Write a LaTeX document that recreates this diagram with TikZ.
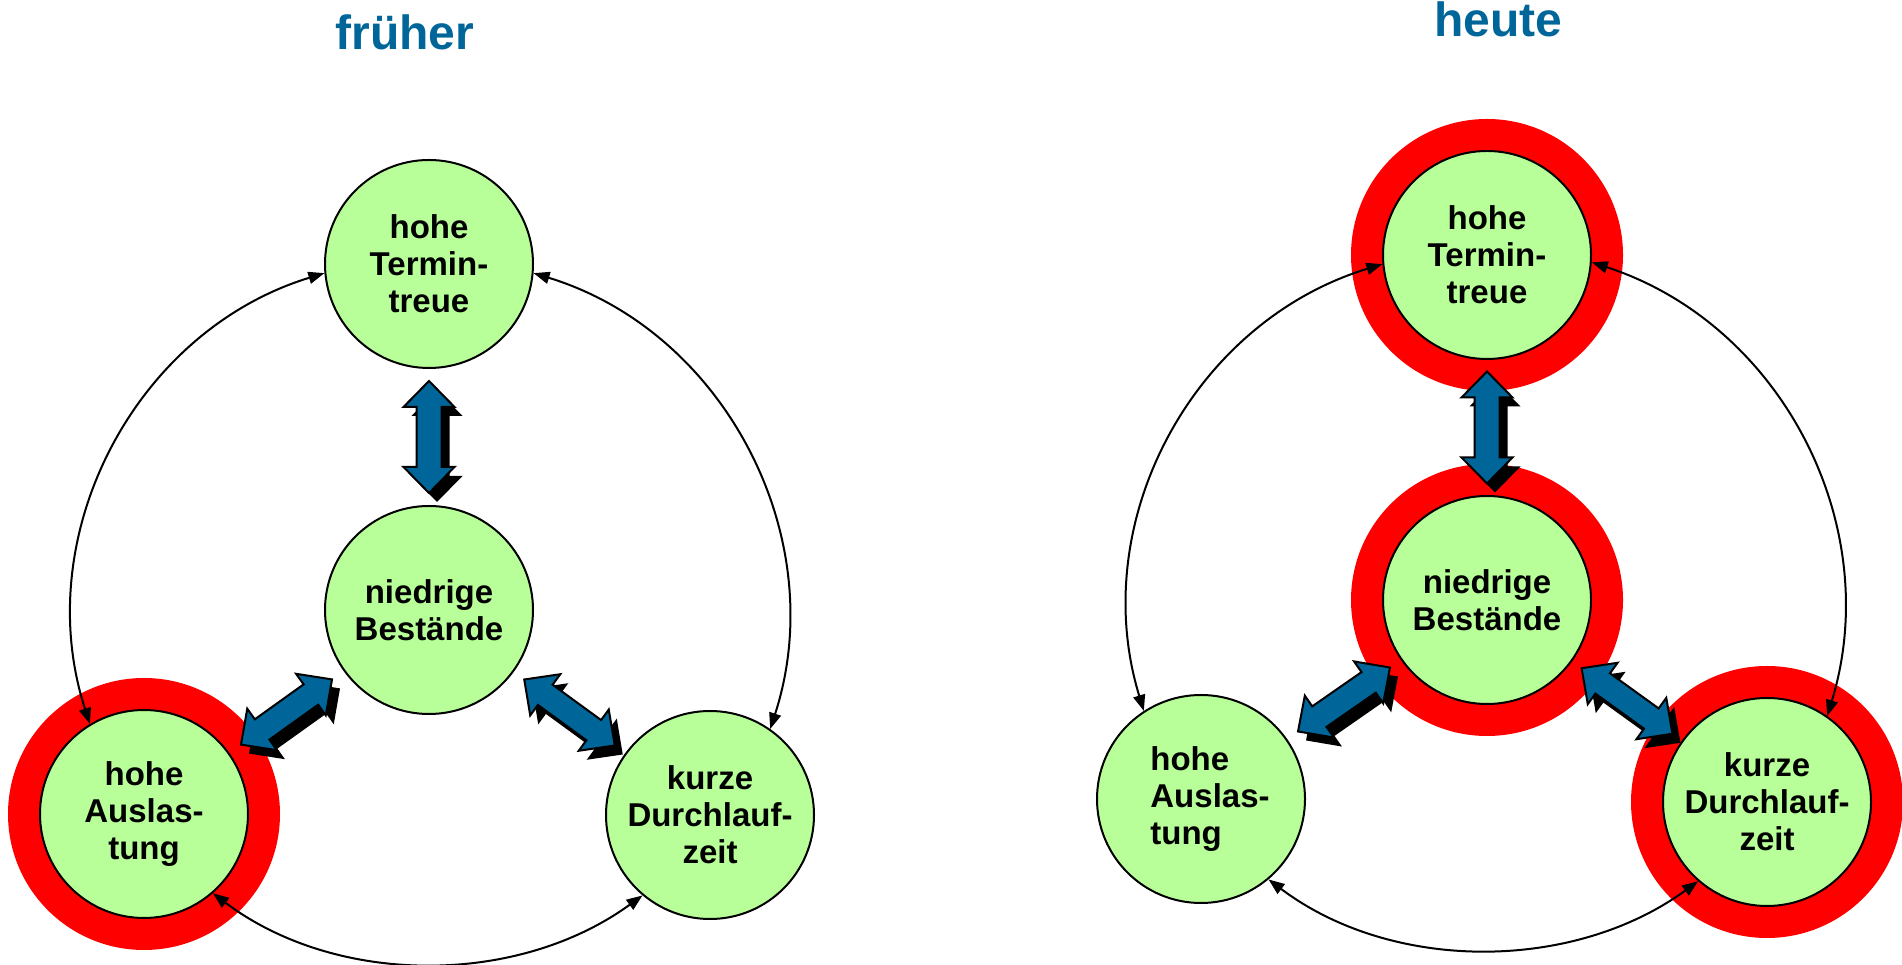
\documentclass[tikz,border=0pt]{standalone}
\usepackage{fontspec}
\setmainfont{Liberation Sans}
\usetikzlibrary{calc,arrows.meta}
\definecolor{dblue}{RGB}{0,102,153}
\definecolor{lgreen}{RGB}{185,255,153}
\newcommand\thickarr[3]{%
  \begin{scope}[shift={($(#1)!0.5!(#2)+(8,-9)$)}, rotate=#3]
    \fill[black] (56,0) -- (30,25.5) -- (30,12.5) -- (-30,12.5) -- (-30,25.5) -- (-56,0) -- (-30,-25.5) -- (-30,-12.5) -- (30,-12.5) -- (30,-25.5) -- cycle;
  \end{scope}
  \begin{scope}[shift={($(#1)!0.5!(#2)$)}, rotate=#3]
    \filldraw[bigarrow] (56,0) -- (30,25.5) -- (30,12.5) -- (-30,12.5) -- (-30,25.5) -- (-56,0) -- (-30,-25.5) -- (-30,-12.5) -- (30,-12.5) -- (30,-25.5) -- cycle;
  \end{scope}}
\tikzset{
  bubble/.style={circle, draw=black, line width=2pt, fill=lgreen, minimum size=208pt,
    inner sep=0pt, align=center, font=\fontsize{33}{37}\selectfont\bfseries},
  ring/.style={fill=red},
  link/.style={line width=2pt, {Triangle[length=16pt,width=12pt]}-{Triangle[length=16pt,width=12pt]}},
  bigarrow/.style={fill=dblue, draw=black, line width=2pt, line join=miter},
  titletext/.style={text=dblue, font=\fontsize{48}{56}\selectfont\bfseries, anchor=base, inner sep=0pt}
}
\begin{document}
\begin{tikzpicture}[x=1pt,y=1pt]
\useasboundingbox (0,0) rectangle (1902,965);
% titles
\node[titletext] (t1) at (405,915) {früher};
\node[titletext] (t2) at (1498,928) {heute};
% positions
\coordinate (pLT) at (429,701);
\coordinate (pLC) at (429,355);
\coordinate (pLBL) at (144,151);
\coordinate (pLBR) at (710,150);
\coordinate (pRT) at (1487,710);
\coordinate (pRC) at (1487,365);
\coordinate (pRBL) at (1201,166);
\coordinate (pRBR) at (1767,163);
% red rings
\fill[ring] (pLBL) circle[radius=136];
\fill[ring] (pRT) circle[radius=136];
\fill[ring] (pRC) circle[radius=136];
\fill[ring] (pRBR) circle[radius=136];
% nodes left
\node[bubble] (LT) at (pLT) {hohe\\Termin-\\treue};
\node[bubble] (LC) at (pLC) {niedrige\\Bestände};
\node[bubble] (LBL) at (pLBL) {hohe\\Auslas-\\tung};
\node[bubble] (LBR) at (pLBR) {kurze\\Durchlauf-\\zeit};
% nodes right
\node[bubble] (RT) at (pRT) {hohe\\Termin-\\treue};
\node[bubble] (RC) at (pRC) {niedrige\\Bestände};
\node[bubble, label={[xshift=9pt, align=left, inner sep=0pt, font=\fontsize{33}{37}\selectfont\bfseries]center:hohe\\Auslas-\\tung}] (RBL) at (pRBL) {};
\node[bubble] (RBR) at (pRBR) {kurze\\Durchlauf-\\zeit};
% thin arcs left
\draw[link] (LT.185) to[out=197, in=108] (LBL.121);
\draw[link] (LT.355) to[out=-17, in=72] (LBR.55);
\draw[link] (LBL.311) to[out=-37, in=216, looseness=0.92] (LBR.230);
% thin arcs right
\draw[link] (RT.185) to[out=197, in=107] (RBL.123);
\draw[link] (RT.356) to[out=-18, in=73] (RBR.55);
\draw[link] (RBL.310) to[out=-37, in=216, looseness=0.92] (RBR.229);
% thick arrows
\thickarr{LT}{LC}{90}
\thickarr{LC}{LBL}{35.6}
\thickarr{LC}{LBR}{-36.1}
\thickarr{RT}{RC}{90}
\thickarr{RC}{RBL}{34.8}
\thickarr{RC}{RBR}{-35.8}
\end{tikzpicture}
\end{document}
